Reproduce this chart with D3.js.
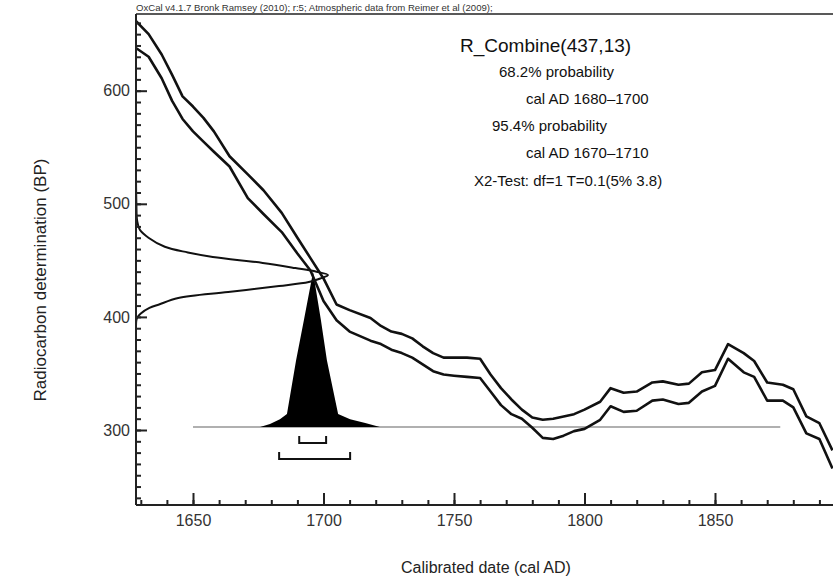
<!DOCTYPE html>
<html>
<head>
<meta charset="utf-8">
<script src="https://cdn.jsdelivr.net/npm/d3@7"></script>
<style>
    body { margin: 0; background: #fff; }
    svg { display: block; font-family: "Liberation Sans", Arial, sans-serif; }
    .tick text { font-size: 16px; fill: #333; }
    .domain { stroke: #222; stroke-width: 2; }
    .tick line { stroke: #222; stroke-width: 2; }
</style>
</head>
<body>
<script>
//calibration curve (IntCal09): calendar years and the +/-1 sigma band in BP
var calYears = [1628, 1633, 1638, 1642, 1646, 1650, 1654, 1658, 1664, 1671, 1677, 1684, 1690, 1695, 1700, 1705,
    1710, 1718, 1722, 1726, 1730, 1734, 1738, 1742, 1746, 1750, 1755, 1760, 1764, 1768, 1772, 1776, 1780,
    1784, 1788, 1792, 1796, 1800, 1806, 1810, 1815, 1820, 1826, 1830, 1836, 1840, 1845, 1850, 1855, 1861,
    1865, 1870, 1876, 1880, 1885, 1890, 1895];
var calUpper = [662, 650, 632, 614, 595, 586, 576, 564, 542, 526, 512, 492, 470, 452, 434, 411,
    406, 399, 392, 387, 385, 381, 374, 368, 364, 364, 364, 363, 349, 337, 327, 318, 311,
    309, 310, 312, 314, 318, 325, 337, 333, 334, 342, 343, 340, 341, 351, 353, 376, 368,
    361, 342, 340, 336, 312, 306, 282];
var calLower = [638, 630, 611, 591, 575, 564, 555, 546, 533, 505, 491, 475, 456, 441, 414, 397,
    387, 379, 376, 371, 368, 364, 358, 352, 349, 348, 347, 346, 334, 322, 314, 310, 302,
    293, 292, 295, 299, 301, 309, 321, 316, 317, 326, 327, 323, 324, 334, 339, 363, 351,
    347, 326, 326, 320, 297, 292, 266];

//measurement R_Combine(437,13) drawn as a sideways probability curve
var measBP = [522, 500, 485, 477, 470, 462, 457, 453, 447.7, 443.2, 440, 437,
    434, 430.9, 427.3, 422, 416.7, 411, 407.9, 403, 399, 392];
var measDensity = [0, 0.002, 0.006, 0.02, 0.065, 0.15, 0.27, 0.40, 0.66, 0.83, 0.94, 1,
    0.96, 0.90, 0.745, 0.48, 0.22, 0.12, 0.07, 0.025, 0.005, 0];

//calibrated date distribution
var postYears = [1675.7, 1679.5, 1683.3, 1686, 1689.5, 1692.5, 1696, 1699, 1701.3, 1705.6, 1710.2, 1716, 1721.6];
var postDensity = [0, 0.02, 0.05, 0.084, 0.43, 0.69, 1, 0.69, 0.43, 0.084, 0.05, 0.026, 0];

//probability ranges (68.2% and 95.4%) and the calibration range line
var range68 = [1690.7, 1701];
var range95 = [1683, 1710.2];
var calRange = [1650, 1875];

//axis ticks
var xMajor = [1650, 1700, 1750, 1800, 1850];
var xMinor = d3.range(1630, 1900, 10);
var yMajor = [300, 400, 500, 600];
var yMinor = d3.range(240, 670, 10);

var header = 'OxCal v4.1.7 Bronk Ramsey (2010); r:5; Atmospheric data from Reimer et al (2009);';
var legendLines = ['R_Combine(437,13)', '68.2% probability', 'cal AD 1680\u20131700',
    '95.4% probability', 'cal AD 1670\u20131710', 'X2-Test: df=1 T=0.1(5% 3.8)'];

function setChart(){
    var width = 833,
        height = 578;
    var left = 136, top = 14, right = 833, bottom = 505;

    var svg = d3.select('body')
        .append('svg')
        .attr('width', width)
        .attr('height', height);

    var x = d3.scaleLinear()
        .domain([1650, 1850])
        .range([193, 715]);
    var y = d3.scaleLinear()
        .domain([300, 600])
        .range([430, 90.7]);

    //clip everything to the plot frame
    svg.append('clipPath').attr('id', 'plot')
        .append('rect')
        .attr('x', left).attr('y', top)
        .attr('width', right - left).attr('height', bottom - top);
    var plot = svg.append('g').attr('clip-path', 'url(#plot)');

    //distribution baseline sits just above the 300 BP tick
    var baseY = 427;
    var dy = d3.scaleLinear().domain([0, 1]).range([baseY, baseY - 155]);
    var dx = d3.scaleLinear().domain([0, 1]).range([left, left + 192]);

    //calibration range line
    plot.append('line')
        .attr('x1', x(calRange[0])).attr('x2', x(calRange[1]))
        .attr('y1', baseY).attr('y2', baseY)
        .attr('stroke', '#b0b0b0')
        .attr('stroke-width', 2);

    //calibrated distribution
    var area = d3.area()
        .x(function(d){ return x(d[0]); })
        .y0(baseY)
        .y1(function(d){ return dy(d[1]); });
    plot.append('path')
        .datum(d3.zip(postYears, postDensity))
        .attr('fill', '#000')
        .attr('d', area);

    //calibration curve band
    var calLine = function(vals){
        return d3.line()
            .x(function(d){ return x(d[0]); })
            .y(function(d){ return y(d[1]); })(d3.zip(calYears, vals));
    };
    [calUpper, calLower].forEach(function(vals){
        plot.append('path')
            .attr('d', calLine(vals))
            .attr('fill', 'none')
            .attr('stroke', '#111')
            .attr('stroke-width', 2.6)
            .attr('stroke-linejoin', 'round');
    });

    //measurement curve on the y axis
    var measLine = d3.line()
        .curve(d3.curveCatmullRom)
        .x(function(d){ return dx(d[1]); })
        .y(function(d){ return y(d[0]); });
    plot.append('path')
        .datum(d3.zip(measBP, measDensity))
        .attr('d', measLine)
        .attr('fill', 'none')
        .attr('stroke', '#111')
        .attr('stroke-width', 2);

    //range brackets
    [[range68, 436, 443], [range95, 452, 459]].forEach(function(b){
        var x1 = x(b[0][0]), x2 = x(b[0][1]);
        plot.append('path')
            .attr('d', 'M' + x1 + ',' + b[1] + 'V' + b[2] + 'H' + x2 + 'V' + b[1])
            .attr('fill', 'none')
            .attr('stroke', '#111')
            .attr('stroke-width', 2);
    });

    //axes with minor and major ticks pointing inward
    svg.append('g')
        .attr('transform', 'translate(0,' + bottom + ')')
        .call(d3.axisBottom(x).tickValues(xMinor).tickSize(-5).tickSizeOuter(0).tickFormat(''))
        .call(function(g){ g.select('.domain').attr('d', 'M' + left + ',0H' + right); });
    svg.append('g')
        .attr('transform', 'translate(0,' + bottom + ')')
        .call(d3.axisBottom(x).tickValues(xMajor).tickSize(-12).tickSizeOuter(0).tickPadding(10).tickFormat(d3.format('d')))
        .call(function(g){ g.select('.domain').remove(); });

    svg.append('g')
        .attr('transform', 'translate(' + left + ',0)')
        .call(d3.axisLeft(y).tickValues(yMinor).tickSize(-5).tickSizeOuter(0).tickFormat(''))
        .call(function(g){ g.select('.domain').attr('d', 'M0,' + top + 'V' + bottom); });
    svg.append('g')
        .attr('transform', 'translate(' + left + ',0)')
        .call(d3.axisLeft(y).tickValues(yMajor).tickSize(-11).tickSizeOuter(0).tickPadding(6))
        .call(function(g){ g.select('.domain').remove(); });

    //top frame line and header
    svg.append('line')
        .attr('x1', left).attr('x2', right)
        .attr('y1', top).attr('y2', top)
        .attr('stroke', '#222').attr('stroke-width', 1.5);
    svg.append('text')
        .attr('x', left).attr('y', 11)
        .attr('font-size', 9.6)
        .attr('fill', '#333')
        .text(header);

    //axis titles
    svg.append('text')
        .attr('x', 486).attr('y', 573)
        .attr('text-anchor', 'middle')
        .attr('font-size', 16)
        .attr('fill', '#222')
        .text('Calibrated date (cal AD)');
    svg.append('text')
        .attr('transform', 'translate(46,280) rotate(-90)')
        .attr('text-anchor', 'middle')
        .attr('font-size', 17)
        .attr('fill', '#222')
        .text('Radiocarbon determination (BP)');

    //result text
    var lx = [460, 499, 526, 492, 526, 474],
        ly = [52, 77, 104, 131, 158, 186],
        fs = [19, 15, 15, 15, 15, 15];
    svg.selectAll('.legend')
        .data(legendLines)
        .enter()
        .append('text')
        .attr('class', 'legend')
        .attr('x', function(d, i){ return lx[i]; })
        .attr('y', function(d, i){ return ly[i]; })
        .attr('font-size', function(d, i){ return fs[i]; })
        .attr('fill', '#111')
        .text(function(d){ return d; });
}

setChart();
</script>
</body>
</html>
